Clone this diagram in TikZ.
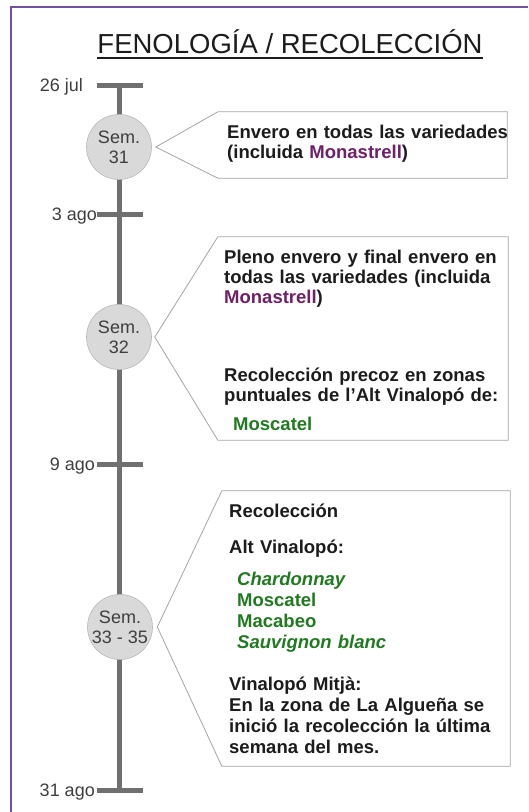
\documentclass[tikz,border=0pt]{standalone}
\usepackage{fontspec}
\setmainfont{Liberation Sans}
\usepackage{tikz}
\usetikzlibrary{positioning}
\definecolor{marco}{RGB}{112,82,160}
\definecolor{linea}{RGB}{112,112,112}
\definecolor{circulo}{RGB}{217,217,217}
\definecolor{borde}{RGB}{165,165,165}
\definecolor{texto}{RGB}{28,28,28}
\definecolor{mona}{RGB}{112,32,104}
\definecolor{verde}{RGB}{32,122,32}
\tikzstyle{eje} = [line width=5pt, linea]
\tikzstyle{fecha} = [inner sep=0pt, text=texto!85, font=\fontsize{18}{20}\selectfont]
\tikzstyle{semana} = [circle, fill=circulo, draw=borde!80, line width=0.6pt, minimum size=65pt, inner sep=0pt, align=center, text=texto!85, font=\fontsize{18}{20}\selectfont]
\tikzstyle{caja} = [inner sep=0pt]
\tikzstyle{bocadillo} = [draw=borde, line width=0.8pt, fill=white]
\tikzstyle{nota} = [anchor=base west, inner sep=0pt, text width=285pt, align=left, text=texto, font=\bfseries\fontsize{18.5}{20}\selectfont]

\begin{document}
\begin{tikzpicture}[x=1pt, y=-1pt]
\useasboundingbox (0,0) rectangle (528,812);
\draw[marco, line width=1.5pt] (11,812) -- (11,7) -- (528,7);

\node (titulo) [anchor=base, inner sep=0pt, text=texto, font=\fontsize{27.5}{30}\selectfont] at (290,53) {FENOLOGÍA / RECOLECCIÓN};
\draw[texto, line width=1.6pt] ([yshift=-5pt]titulo.base west) -- ([yshift=-5pt]titulo.base east);

\coordinate (d26) at (119,85);
\coordinate (d3) at (119,214);
\coordinate (d9) at (119,464);
\coordinate (d31) at (119,790);
\draw[eje] (d26) -- (d31);
\foreach \d in {d26,d3,d9,d31}
  \draw[eje] ([xshift=-22pt]\d) -- ([xshift=24pt]\d);

\node (f26) [fecha, left=36pt of d26, anchor=base east, yshift=-6.5pt] {26 jul};
\node (f3) [fecha, left=22pt of d3, anchor=base east, yshift=-6.5pt] {3 ago};
\node (f9) [fecha, left=24pt of d9, anchor=base east, yshift=-6.5pt] {9 ago};
\node (f31) [fecha, left=24pt of d31, anchor=base east, yshift=-6.5pt] {31 ago};

\node (s31) [semana] at (119,147) {Sem.\\31};
\node (s32) [semana] at (119,337) {Sem.\\32};
\node (s33) [semana] at (120,627) {Sem.\\33 - 35};

\node (b31) [caja, minimum width=289pt, minimum height=66pt] at (362.5,145) {};
\node (b32) [caja, minimum width=290pt, minimum height=203pt] at (363,338.5) {};
\node (b33) [caja, minimum width=288pt, minimum height=275pt] at (366,628.5) {};
\coordinate (p31) at ([xshift=4pt]s31.east);
\coordinate (p32) at ([xshift=3pt]s32.east);
\coordinate (p33) at ([xshift=4.5pt]s33.east);
\draw[bocadillo] (p31) -- (b31.north west) -- (b31.north east) -- (b31.south east) -- (b31.south west) -- cycle;
\draw[bocadillo] (p32) -- (b32.north west) -- (b32.north east) -- (b32.south east) -- (b32.south west) -- cycle;
\draw[bocadillo] (p33) -- (b33.north west) -- (b33.north east) -- (b33.south east) -- (b33.south west) -- cycle;

\node (n31) [nota] at (227,138) {Envero en todas las variedades\\(incluida \textcolor{mona}{Monastrell})};
\node (n32a) [nota] at (224,263) {Pleno envero y final envero en\\todas las variedades (incluida\\\textcolor{mona}{Monastrell})};
\node (n32b) [nota] at (224,381) {Recolección precoz en zonas\\puntuales de l’Alt Vinalopó de:};
\node (n32c) [nota, text=verde] at (233,430) {Moscatel};
\node (n33a) [nota] at (229,517) {Recolección};
\node (n33b) [nota] at (229,553) {Alt Vinalopó:};
\node (n33c) [nota, text=verde, font=\bfseries\fontsize{18.5}{21}\selectfont] at (237,585) {\textit{Chardonnay}\\Moscatel\\Macabeo\\\textit{Sauvignon blanc}};
\node (n33d) [nota, font=\bfseries\fontsize{18.5}{21}\selectfont] at (229,690) {Vinalopó Mitjà:\\En la zona de La Algueña se\\inició la recolección la última\\semana del mes.};
\end{tikzpicture}
\end{document}
